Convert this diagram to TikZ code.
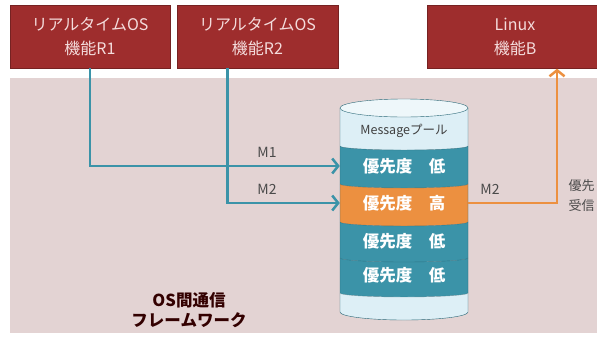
\documentclass[tikz,border=0pt]{standalone}
\usepackage{fontspec}
\setmainfont{Noto Sans CJK JP}
\usepackage{tikz}
\usetikzlibrary{arrows.meta,positioning,calc}
\usepackage{xcolor}
\definecolor{boxred}{HTML}{9E2D2D}
\definecolor{boxtext}{HTML}{F4DCDC}
\definecolor{frameback}{HTML}{E3D3D3}
\definecolor{msgteal}{HTML}{3B93A8}
\definecolor{msgorange}{HTML}{EC9040}
\definecolor{poolblue}{HTML}{DDEFF6}
\definecolor{labelgray}{HTML}{4A4A4A}

\begin{document}
\begin{tikzpicture}[x=1pt,y=-1pt,
    fnbox/.style={draw=boxred!75!black, fill=boxred, text=boxtext, align=center,
        font=\fontsize{16}{24}\selectfont, minimum height=63pt, inner sep=0pt},
    bandtxt/.style={minimum width=128pt, inner sep=0pt, text=white,
        font=\bfseries\fontsize{16.5}{18}\selectfont},
    msglbl/.style={text=labelgray, font=\fontsize{14}{16}\selectfont},
    tealarrow/.style={msgteal, line width=2.5pt, -{Straight Barb[length=6pt,width=15pt]}},
    orangearrow/.style={msgorange, line width=2.5pt, -{Straight Barb[length=6pt,width=15pt]}}]
    \useasboundingbox (0,0) rectangle (597,338);
    \fill[white] (0,0) rectangle (597,338);

    % Framework area
    \node[fill=frameback, minimum width=600pt, minimum height=255pt, anchor=north west, inner sep=0pt] (framework) at (10,78) {};
    \node[text=black!80!red, align=center, font=\bfseries\fontsize{16.5}{20}\selectfont] (fwlbl) at (189,310) {OS間通信\\フレームワーク};

    % Function boxes
    \node[fnbox, minimum width=160pt] (r1) at (90,36.5) {リアルタイムOS\\機能R1};
    \node[fnbox, minimum width=161pt] (r2) at (257.5,36.5) {リアルタイムOS\\機能R2};
    \node[fnbox, minimum width=176pt] (linuxb) at (515,37) {Linux\\機能B};

    % Message pool (cylinder)
    \foreach \ya/\yb/\col/\rb in {108/146/poolblue/4, 146/184/msgteal/4, 184/222/msgorange/4,
                                  222/258/msgteal/4, 258/293/msgteal/4, 293/312/poolblue/8}
        \fill[\col] (340,\ya) -- (340,\yb) arc[start angle=180, end angle=0, x radius=64, y radius=\rb]
            -- (468,\ya) arc[start angle=0, end angle=180, x radius=64, y radius=4] -- cycle;
    \foreach \ya in {146,184,222,258,293}
        \draw[msgteal!60!black, opacity=0.5] (340,\ya) arc[start angle=180, end angle=0, x radius=64, y radius=4];
    \draw[msgteal!70!black] (340,108) -- (340,312) arc[start angle=180, end angle=0, x radius=64, y radius=8] -- (468,108);
    \draw[msgteal!70!black, fill=poolblue!50!white] (404,108) ellipse[x radius=64, y radius=9];

    \node[bandtxt, text=black!75, font=\fontsize{12.5}{14}\selectfont] (b0) at (404,131) {Messageプール};
    \node[bandtxt] (b1) at (404,166) {優先度\quad 低};
    \node[bandtxt] (b2) at (404,203) {優先度\quad 高};
    \node[bandtxt] (b3) at (404,241) {優先度\quad 低};
    \node[bandtxt] (b4) at (404,275) {優先度\quad 低};

    % Messages
    \draw[tealarrow] (r1.south) |- (b1.west);
    \draw[tealarrow] ([xshift=-30pt]r2.south) |- (b2.west);
    \draw[orangearrow] (b2.east) -| ([xshift=42pt]linuxb.south);

    \node[msglbl] (m1lbl) at (267,152) {M1};
    \node[msglbl] (m2lbl) at (267,189) {M2};
    \node[msglbl] (m2out) at (490,189) {M2};
    \node[msglbl, anchor=west, align=left, font=\fontsize{13}{20}\selectfont] (recvlbl) at (565,196) {優先\\受信};
\end{tikzpicture}
\end{document}
